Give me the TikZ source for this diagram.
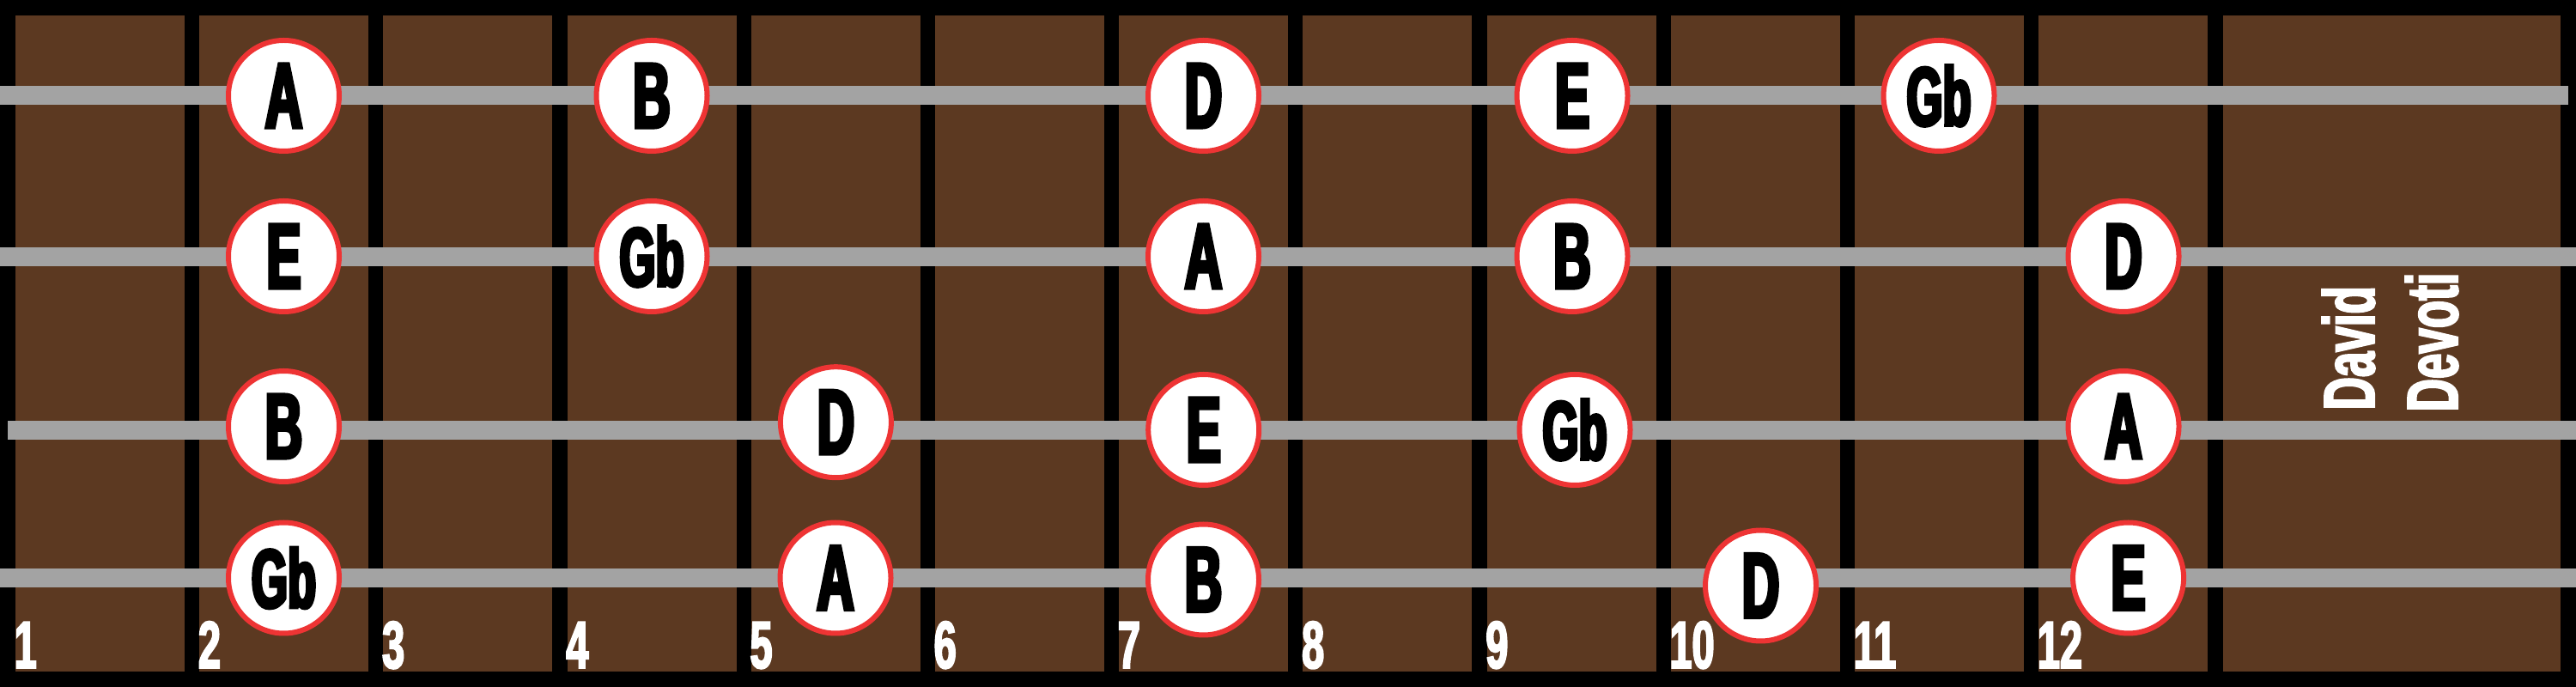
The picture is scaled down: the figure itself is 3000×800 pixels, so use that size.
\documentclass[tikz,border=0pt]{standalone}
\usepackage{fontspec}
\newfontfamily\notef{Liberation Sans Bold}[FakeStretch=0.56,FakeBold=4]
\newfontfamily\numf{Liberation Sans Bold}[FakeStretch=0.6,FakeBold=2.5]
\newfontfamily\namef{Liberation Sans Bold}[FakeStretch=0.63,FakeBold=2.5]
\definecolor{fretbrown}{RGB}{92,57,33}
\definecolor{strgray}{RGB}{163,163,163}
\definecolor{notered}{RGB}{238,52,52}
\begin{document}
\begin{tikzpicture}[x=0.1mm,y=-0.1mm,
  note/.style={circle, draw=notered, line width=0.6mm, fill=white, minimum size=12.9mm, inner sep=0pt, text=black,
    font=\notef\fontsize{30.5pt}{32pt}\selectfont},
  notegb/.style={note, font=\notef\fontsize{27.5pt}{29pt}\selectfont},
  strg/.style={fill=strgray},
  fretnum/.style={anchor=base west, inner sep=0pt, text=white, font=\numf\fontsize{22.2pt}{24pt}\selectfont},
  namelbl/.style={anchor=base west, inner sep=0pt, rotate=90, text=white, font=\namef\fontsize{23.9pt}{26pt}\selectfont}]
\useasboundingbox (0,0) rectangle (3000,800);
\fill[black] (0,0) rectangle (3000,800);
% fret cells
\foreach \k in {1,...,12}
  \fill[fretbrown] ({18+(\k-1)*214.2},18) rectangle ++(197,764);
\fill[fretbrown] (2589,18) rectangle (2982,782);
% strings
\path[strg] (0,100.5) rectangle (2991,122.5);
\path[strg] (0,288) rectangle (3000,310);
\path[strg] (9,490) rectangle (3000,512);
\path[strg] (0,662) rectangle (3000,684);
% string 1
\node[note]   (s1a)  at (330.5,111.5) {A};
\node[note]   (s1b)  at (759,111.5) {B};
\node[note]   (s1d)  at (1401.5,111.5) {D};
\node[note]   (s1e)  at (1831,111.5) {E};
\node[notegb] (s1gb) at (2258,111.5) {Gb};
% string 2
\node[note]   (s2e)  at (330.5,298.5) {E};
\node[notegb] (s2gb) at (759,298.5) {Gb};
\node[note]   (s2a)  at (1401.5,298.5) {A};
\node[note]   (s2b)  at (1831,298.5) {B};
\node[note]   (s2d)  at (2473,298.5) {D};
% string 3
\node[note]   (s3b)  at (330.5,496.5) {B};
\node[note]   (s3d)  at (973.4,491.7) {D};
\node[note]   (s3e)  at (1401.7,500.5) {E};
\node[notegb] (s3gb) at (1834,500.5) {Gb};
\node[note]   (s3a)  at (2473,496.5) {A};
% string 4
\node[notegb] (s4gb) at (330.5,673) {Gb};
\node[note]   (s4a)  at (973,673) {A};
\node[note]   (s4b)  at (1401.5,675) {B};
\node[note]   (s4d)  at (2050.5,682) {D};
\node[note]   (s4e)  at (2478.6,673) {E};
% fret numbers
\foreach \k in {1,...,12}
  \node[fretnum] (num\k) at ({18+(\k-1)*214.2-2},778) {\k};
% name
\node[namelbl] (david) at (2765,478) {David};
\node[namelbl] (devoti) at (2862,480) {Devoti};
\end{tikzpicture}
\end{document}
